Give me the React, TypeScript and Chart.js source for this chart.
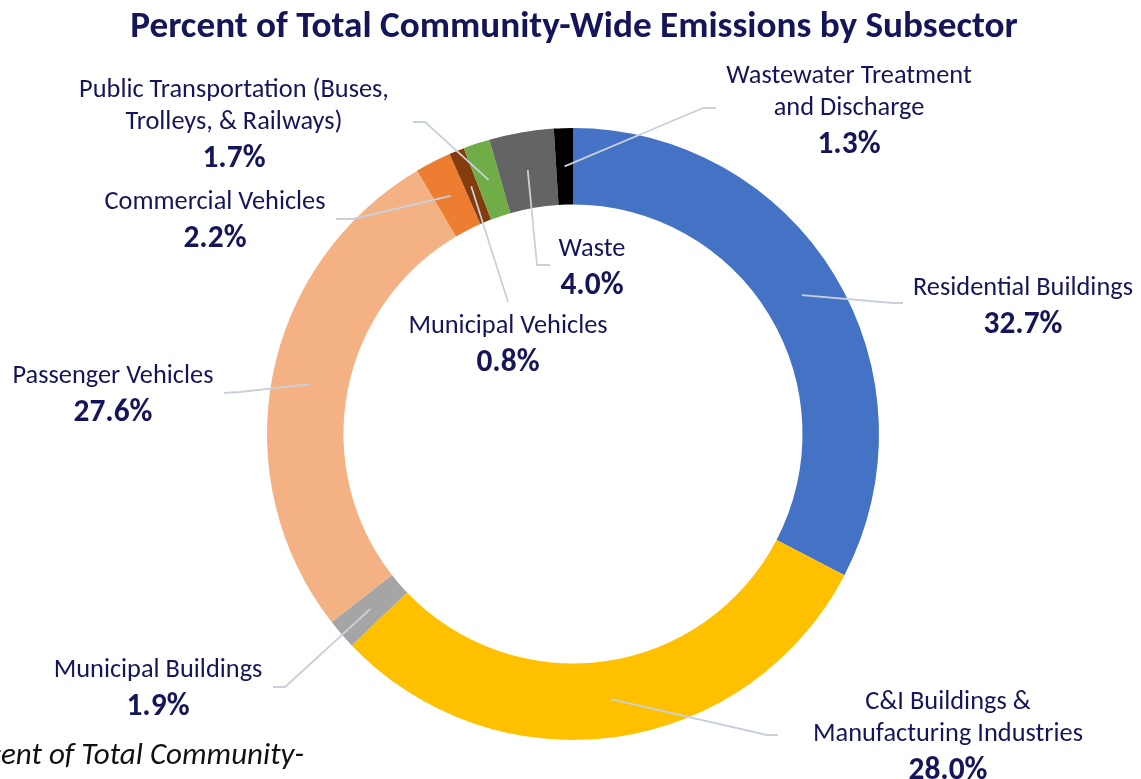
import React, { useEffect, useRef } from 'react';
import { Chart, registerables } from 'chart.js';

Chart.register(...registerables);

// ---- data ----
const titleText = 'Percent of Total Community-Wide Emissions by Subsector';
const captionText = 'Percent of Total Community-';
const categories = [
  'Residential Buildings',
  'C&I Buildings &\nManufacturing Industries',
  'Municipal Buildings',
  'Passenger Vehicles',
  'Commercial Vehicles',
  'Municipal Vehicles',
  'Public Transportation (Buses,\nTrolleys, & Railways)',
  'Waste',
  'Wastewater Treatment\nand Discharge',
];
// slice shares as drawn in the picture
const shares = [32.6, 30.2, 1.6, 27.0, 1.9, 0.8, 1.4, 3.4, 1.0];
// percentages printed on the labels
const percentLabels = ['32.7%', '28.0%', '1.9%', '27.6%', '2.2%', '0.8%', '1.7%', '4.0%', '1.3%'];
const sliceColors = ['#4472C4', '#FFC000', '#A5A5A5', '#F4B183', '#ED7D31', '#843C0C', '#70AD47', '#646464', '#000000'];

// ---- layout (label text centre / first line y, leader-line path after the slice point) ----
const labelLayout = [
  { x: 1023, y: 288, path: [[893, 303], [903, 303]] },
  { x: 948, y: 702, path: [[767, 735], [778, 735]] },
  { x: 158, y: 670, path: [[285, 687], [273, 687]] },
  { x: 113, y: 376, path: [[240, 392], [224, 393]] },
  { x: 215, y: 202, path: [[353, 219], [336, 219]] },
  { x: 508, y: 326, path: [[508, 302]] },
  { x: 234, y: 90, path: [[425, 122], [413, 122]] },
  { x: 592, y: 249, path: [[537, 265], [550, 265]] },
  { x: 849, y: 76, path: [[703, 108], [716, 108]] },
];

const FAMILY = 'Carlito, Lato, "Open Sans", sans-serif';
const NAVY = '#15155A';

function fitSize(ctx: CanvasRenderingContext2D, text: string, weight: string, target: number) {
  ctx.font = `${weight} 100px ${FAMILY}`;
  const w = ctx.measureText(text).width;
  return (100 * target) / w;
}

const labelPlugin = {
  id: 'customLabels',
  afterDraw(chart: any) {
    const ctx: CanvasRenderingContext2D = chart.ctx;
    const meta = chart.getDatasetMeta(0);
    ctx.save();

    // title
    const tSize = fitSize(ctx, titleText, 'bold', 888);
    ctx.font = `bold ${tSize}px ${FAMILY}`;
    ctx.fillStyle = NAVY;
    ctx.textAlign = 'center';
    ctx.textBaseline = 'middle';
    ctx.fillText(titleText, 574, 28);

    // leader lines
    ctx.strokeStyle = '#C8D0DA';
    ctx.lineWidth = 1.8;
    ctx.lineJoin = 'round';
    meta.data.forEach((arc: any, i: number) => {
      const p = arc.getCenterPoint();
      ctx.beginPath();
      ctx.moveTo(p.x, p.y);
      labelLayout[i].path.forEach(([x, y]) => ctx.lineTo(x, y));
      ctx.stroke();
    });

    // labels
    const rSize = fitSize(ctx, 'Residential Buildings', 'normal', 220);
    const bSize = fitSize(ctx, '32.7%', 'bold', 79);
    categories.forEach((name, i) => {
      const lay = labelLayout[i];
      const lines = name.split('\n');
      ctx.fillStyle = NAVY;
      ctx.textAlign = 'center';
      ctx.textBaseline = 'middle';
      ctx.font = `normal ${rSize}px ${FAMILY}`;
      lines.forEach((ln, k) => ctx.fillText(ln, lay.x, lay.y + k * 32));
      ctx.font = `bold ${bSize}px ${FAMILY}`;
      ctx.fillText(percentLabels[i], lay.x, lay.y + (lines.length - 1) * 32 + 37);
    });

    // cut-off caption at the bottom-left
    const cSize = fitSize(ctx, 'ent of Total Community-', 'italic normal', 303);
    ctx.font = `italic normal ${cSize}px ${FAMILY}`;
    ctx.fillStyle = '#111111';
    ctx.textAlign = 'right';
    ctx.textBaseline = 'middle';
    ctx.fillText(captionText, 304, 756);

    ctx.restore();
  },
};

export default function App() {
  const ref = useRef<HTMLCanvasElement | null>(null);
  useEffect(() => {
    if (!ref.current) return;
    const chart = new Chart(ref.current, {
      type: 'doughnut',
      data: {
        labels: categories.map((c) => c.replace('\n', ' ')),
        datasets: [
          {
            data: shares,
            backgroundColor: sliceColors,
            borderWidth: 0,
            hoverOffset: 0,
            offset: 0,
          },
        ],
      },
      options: {
        animation: false,
        responsive: false,
        cutout: '75%',
        rotation: 0,
        layout: { padding: { left: 267, right: 262, top: 128, bottom: 39 } },
        plugins: {
          legend: { display: false },
          tooltip: { enabled: false },
          title: { display: false },
        },
        events: [],
      },
      plugins: [labelPlugin],
    });
    return () => chart.destroy();
  }, []);
  return (
    <div style={{ position: 'absolute', left: 0, top: 0, width: 1141, height: 779, background: '#fff' }}>
      <canvas ref={ref} width={1141} height={779} style={{ width: 1141, height: 779, display: 'block' }} />
    </div>
  );
}
